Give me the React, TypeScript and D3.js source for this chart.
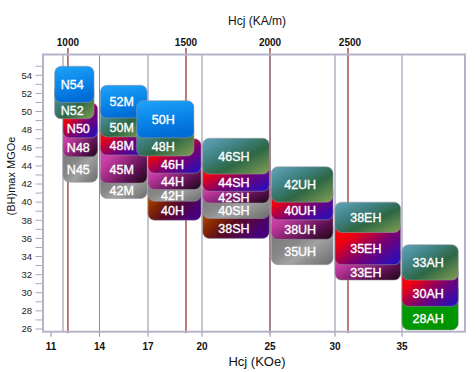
import { scaleLinear, range } from 'd3';

// grades, top to bottom inside each family
const grades = [
  'N54', 'N52', 'N50', 'N48', 'N45',
  '52M', '50M', '48M', '45M', '42M',
  '50H', '48H', '46H', '44H', '42H', '40H',
  '46SH', '44SH', '42SH', '40SH', '38SH',
  '42UH', '40UH', '38UH', '35UH',
  '38EH', '35EH', '33EH',
  '33AH', '30AH', '28AH',
];
const bhTop = [
  55, 53, 51, 49, 47,
  52.9, 51, 49, 47, 44,
  51.2, 49, 47, 45, 43, 42,
  47.05, 45, 43, 42, 40,
  43.9, 42, 40, 38,
  40, 38, 35,
  35.3, 33, 31,
];
const bhBottom = [
  51, 49.2, 47.1, 45, 42.2,
  49.3, 47.2, 45.2, 42.1, 40.4,
  47.1, 45.1, 43.2, 41.4, 40.1, 38,
  43.1, 41.2, 39.9, 38.2, 36,
  40, 38.05, 35.9, 33.1,
  36.65, 33.1, 31.4,
  31.4, 28.5, 25.9,
];
const hcjFrom = [
  11.3, 11.3, 12, 12, 12,
  14.05, 14.05, 14.05, 14.05, 14.05,
  16.3, 16.3, 17, 17, 17, 17,
  20.05, 20.05, 20.05, 20.05, 20.05,
  25.1, 25.1, 25.1, 25.1,
  30, 30, 30,
  35, 35, 35,
];
const hcjTo = [
  13.7, 13.7, 13.9, 13.9, 13.9,
  16.95, 16.95, 16.95, 16.95, 16.95,
  19.55, 19.55, 19.95, 19.95, 19.95, 19.95,
  24.95, 24.95, 24.95, 24.95, 24.95,
  29.85, 29.85, 29.85, 29.85,
  34.9, 34.9, 34.9,
  39.2, 39.2, 39.2,
];
const finishes = [
  'blue', 'teal', 'red', 'magenta', 'grey',
  'blue', 'teal', 'red', 'magenta', 'grey',
  'blue', 'teal', 'red', 'magenta', 'grey', 'brown',
  'teal', 'red', 'magenta', 'grey', 'brown',
  'teal', 'red', 'magenta', 'grey',
  'teal', 'red', 'magenta',
  'teal', 'red', 'green',
];

const koeTicks = [11, 14, 17, 20, 25, 30, 35];
const koeGrid = [12, 14, 17, 20, 25, 30, 35];
const kamTicks = [1000, 1500, 2000, 2500];
const kamAtKoe = [12.27, 19.11, 25, 30.97];

const W = 476;
const H = 372;
const plot = { left: 43, right: 465, top: 54.5, bottom: 331.7 };

// the kOe axis of the original is drawn piecewise
const x = scaleLinear()
  .domain([11, 12, 14, 17, 20, 25, 30, 35, 40])
  .range([51, 63, 99.5, 148, 202, 270, 335, 402, 469]);
const y = scaleLinear().domain([26, 54]).range([329, 75.3]);

const FONT = '"Liberation Sans", Arial, sans-serif';

const gradients: Record<string, { x2: number; y2: number; stops: [number, string][] }> = {
  blue: { x2: 0.25, y2: 1, stops: [[0, '#1ea4f8'], [0.55, '#0a86ea'], [1, '#006cd6']] },
  teal: { x2: 1, y2: 1, stops: [[0, '#62a4bc'], [0.35, '#3f8080'], [0.6, '#2e6744'], [1, '#84a055']] },
  red: { x2: 1, y2: 1, stops: [[0, '#ff0000'], [0.3, '#f00010'], [0.6, '#7a0070'], [1, '#1a10c8']] },
  magenta: { x2: 1, y2: 1, stops: [[0, '#e456c8'], [0.35, '#c23a9e'], [0.75, '#5a1050'], [1, '#1e0814']] },
  grey: { x2: 1, y2: 1, stops: [[0, '#747474'], [0.45, '#888888'], [0.62, '#a2a2a2'], [1, '#6a6a6a']] },
  brown: { x2: 1, y2: 0.6, stops: [[0, '#cc6600'], [0.35, '#8a2a00'], [0.6, '#5a0a20'], [1, '#48007a']] },
  green: { x2: 1, y2: 1, stops: [[0, '#009c00'], [1, '#009400']] },
};

const family = (g: string) => g.replace(/\d+/g, '');

export default function App() {
  const families = Array.from(new Set(grades.map(family)));
  // draw each family bottom-up so upper grades overlay, families left to right
  const order: number[] = [];
  families.forEach((f) => {
    const idx = grades.map((g, i) => i).filter((i) => family(grades[i]) === f);
    order.push(...idx.reverse());
  });

  const yTicks = range(26, 56);
  const yLabels = range(26, 55, 2);

  return (
    <svg
      width={W}
      height={H}
      style={{ position: 'absolute', left: 0, top: 0, background: '#fff' }}
      fontFamily={FONT}
    >
      <defs>
        {Object.entries(gradients).map(([k, gdef]) => (
          <linearGradient key={k} id={`g-${k}`} x1={0} y1={0} x2={gdef.x2} y2={gdef.y2}>
            {gdef.stops.map(([o, c], i) => (
              <stop key={i} offset={o} stopColor={c} />
            ))}
          </linearGradient>
        ))}
      </defs>

      {/* titles */}
      <text x={257} y={25} textAnchor="middle" fontSize={12} fill="#111">
        Hcj (KA/m)
      </text>
      <text x={257} y={366} textAnchor="middle" fontSize={13} fill="#111">
        Hcj (KOe)
      </text>
      <text
        transform={`translate(15,176) rotate(-90)`}
        textAnchor="middle"
        fontSize={11}
        fill="#111"
      >
        (BH)max MGOe
      </text>

      {/* red KA/m lines */}
      {kamTicks.map((v, i) => (
        <g key={v}>
          <line
            x1={x(kamAtKoe[i])}
            x2={x(kamAtKoe[i])}
            y1={48}
            y2={plot.bottom + 1.5}
            stroke="#a84040"
            strokeWidth={1.4}
          />
          <text
            x={x(kamAtKoe[i]) + (i === 3 ? 2 : 0)}
            y={46}
            textAnchor="middle"
            fontSize={10}
            fontWeight="bold"
            fill="#111"
          >
            {v}
          </text>
        </g>
      ))}

      {/* grid */}
      {koeGrid.map((v) => (
        <line
          key={v}
          x1={x(v)}
          x2={x(v)}
          y1={plot.top}
          y2={v === 12 ? plot.bottom : plot.bottom + 5}
          stroke="#8a8aa8"
          strokeWidth={1}
        />
      ))}
      <line x1={x(11)} x2={x(11)} y1={plot.bottom} y2={plot.bottom + 5} stroke="#8a8aa8" />

      {/* frame */}
      <rect
        x={plot.left}
        y={plot.top}
        width={plot.right - plot.left}
        height={plot.bottom - plot.top}
        fill="none"
        stroke="#b4b4c8"
        strokeWidth={2}
      />

      {/* y axis ticks */}
      {yTicks.map((v) => (
        <line key={v} x1={35.5} x2={plot.left - 1} y1={y(v)} y2={y(v)} stroke="#a8a8b8" strokeWidth={1} />
      ))}
      {yLabels.map((v) => (
        <text key={v} x={32} y={y(v)} dy="0.35em" textAnchor="end" fontSize={9.5} fill="#222">
          {v}
        </text>
      ))}

      {/* x tick labels */}
      {koeTicks.map((v) => (
        <text key={v} x={x(v)} y={350} textAnchor="middle" fontSize={10} fontWeight="bold" fill="#111">
          {v}
        </text>
      ))}

      {/* grade boxes */}
      {order.map((i) => {
        const x0 = x(hcjFrom[i]);
        const x1 = x(hcjTo[i]);
        const y0 = y(bhTop[i]);
        const y1 = y(bhBottom[i]);
        const prev = i - 1;
        const covered = prev >= 0 && family(grades[prev]) === family(grades[i]);
        const visTop = covered ? Math.max(y0, y(bhBottom[prev])) : y0;
        return (
          <g key={grades[i]}>
            <rect
              x={x0}
              y={y0}
              width={x1 - x0}
              height={y1 - y0}
              rx={6.5}
              ry={6.5}
              fill={`url(#g-${finishes[i]})`}
              stroke="rgba(150,150,160,0.55)"
              strokeWidth={1}
            />
            <text
              x={(x0 + x1) / 2 - 2}
              y={(visTop + y1) / 2}
              dy="0.36em"
              textAnchor="middle"
              fontSize={12.5}
              fill="#fff"
              stroke="#fff"
              strokeWidth={0.35}
            >
              {grades[i]}
            </text>
          </g>
        );
      })}
    </svg>
  );
}
